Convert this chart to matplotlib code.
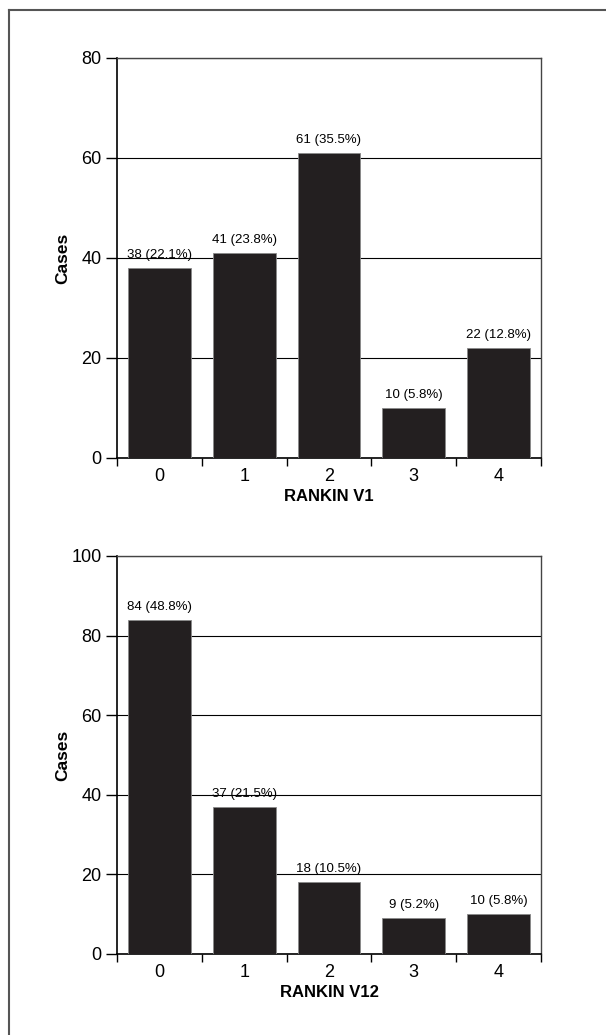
import matplotlib
matplotlib.use('Agg')
import matplotlib.pyplot as plt
from matplotlib.lines import Line2D

plt.rcParams['font.family'] = ['Liberation Sans', 'DejaVu Sans']

# Datos
categorias = [0, 1, 2, 3, 4]
casos_v1 = [38, 41, 61, 10, 22]
pct_v1 = [22.1, 23.8, 35.5, 5.8, 12.8]
casos_v12 = [84, 37, 18, 9, 10]
pct_v12 = [48.8, 21.5, 10.5, 5.2, 5.8]

COLOR_BARRA = '#231f20'


def panel(ax, casos, pct, xlabel, ymax):
    ax.bar(categorias, casos, width=0.74, color=COLOR_BARRA,
           edgecolor='#8a8a8a', linewidth=0.6, zorder=3)
    for x, c, p in zip(categorias, casos, pct):
        ax.annotate(f'{c} ({p}%)', xy=(x, c), xytext=(0, 5),
                    textcoords='offset points', ha='center', va='bottom',
                    fontsize=9.5)
    ax.set_xlim(-0.5, 4.5)
    ax.set_ylim(0, ymax)
    ax.set_yticks(range(0, ymax + 1, 20))
    ax.yaxis.grid(True, color='black', linewidth=0.8, zorder=0)
    ax.set_axisbelow(True)
    # ticks mayores en los bordes de categoría, etiquetas en los menores
    ax.set_xticks([i - 0.5 for i in range(6)])
    ax.set_xticklabels([])
    ax.set_xticks(categorias, minor=True)
    ax.set_xticklabels([str(c) for c in categorias], minor=True, fontsize=13)
    ax.tick_params(axis='x', which='major', direction='out', length=6, width=1)
    ax.tick_params(axis='x', which='minor', length=0, pad=7)
    ax.tick_params(axis='y', direction='out', length=8, width=1, labelsize=13, pad=3)
    for lado in ['left', 'bottom']:
        ax.spines[lado].set_color('black')
        ax.spines[lado].set_linewidth(1.2)
    for lado in ['top', 'right']:
        ax.spines[lado].set_color('#444444')
        ax.spines[lado].set_linewidth(1.0)
    ax.set_xlabel(xlabel, fontsize=12, fontweight='bold', labelpad=3)
    ax.set_ylabel('Cases', fontsize=12.5, fontweight='bold')
    ax.yaxis.set_label_coords(-0.11, 0.5)


fig = plt.figure(figsize=(6.06, 10.35), dpi=100)
ax1 = fig.add_axes([117 / 606, 577 / 1035, 424 / 606, 400 / 1035])
ax2 = fig.add_axes([117 / 606, 81 / 1035, 424 / 606, 398 / 1035])

panel(ax1, casos_v1, pct_v1, 'RANKIN V1', 80)
panel(ax2, casos_v12, pct_v12, 'RANKIN V12', 100)

# marco exterior (solo izquierda y arriba)
y_top = 1 - 10 / 1035
x_left = 9 / 606
fig.add_artist(Line2D([x_left, x_left], [0, y_top], color='#555555', linewidth=1.5,
                      transform=fig.transFigure))
fig.add_artist(Line2D([x_left, 1], [y_top, y_top], color='#555555', linewidth=1.5,
                      transform=fig.transFigure))

fig.savefig('out.png', dpi=100, facecolor='white')
